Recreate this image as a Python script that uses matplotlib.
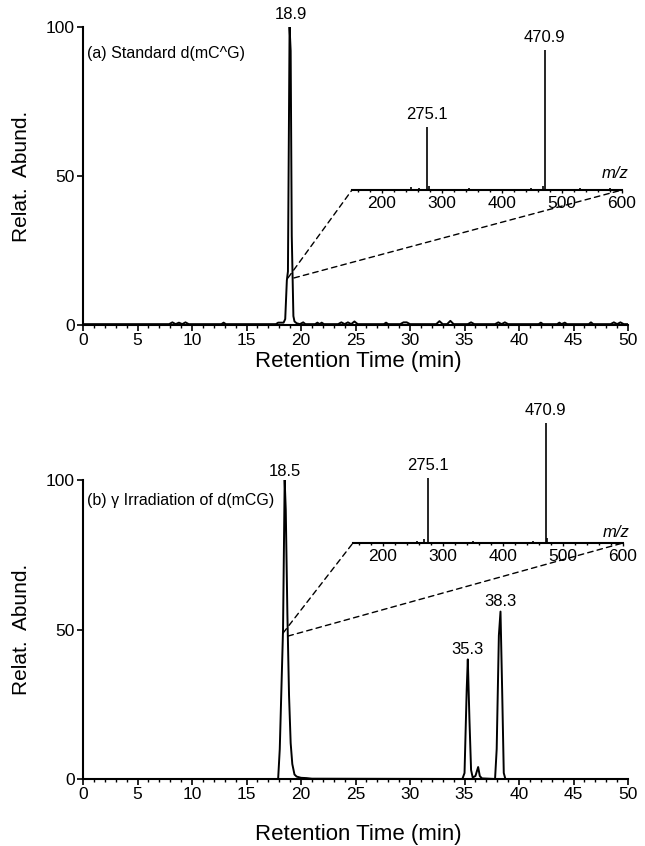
'''
LC chromatograms of d(mC^G) standard and gamma-irradiated d(mCG),
with the mass spectrum of the main peak as an inset
'''

import matplotlib
matplotlib.use('Agg')
from matplotlib import pyplot as plt
from matplotlib.patches import ConnectionPatch
from matplotlib.ticker import MultipleLocator

plt.rcParams['font.family'] = ['Liberation Sans', 'DejaVu Sans']

# chromatogram (a): standard
time_a = [0.0, 7.9, 8.2, 8.5, 8.8, 9.1, 9.4, 9.7, 12.7, 12.9, 13.1, 17.7, 17.9, 18.4,
          18.55, 18.7, 18.8, 18.95, 19.05, 19.15, 19.3, 19.4, 19.6, 19.9, 20.2, 20.4,
          21.3, 21.5, 21.7, 21.9, 22.1, 23.4, 23.7, 24.0, 24.3, 24.6, 24.9, 25.2,
          27.6, 27.8, 28.0, 29.1, 29.4, 29.7, 30.0, 32.4, 32.7, 33.0, 33.4, 33.7,
          34.0, 35.3, 35.6, 35.9, 37.8, 38.1, 38.4, 38.7, 39.0, 41.8, 42.0, 42.2,
          43.5, 43.7, 43.9, 44.2, 44.4, 46.4, 46.6, 46.8, 48.4, 48.7, 49.0, 49.3,
          49.6, 50.0]
abund_a = [0.3, 0.3, 0.9, 0.3, 0.8, 0.3, 0.9, 0.3, 0.3, 0.8, 0.3, 0.3, 0.8, 0.8,
           2.0, 15.0, 18.0, 100.0, 92.0, 30.0, 3.0, 1.2, 0.6, 0.3, 0.9, 0.3,
           0.3, 0.8, 0.3, 0.8, 0.3, 0.3, 0.9, 0.3, 0.9, 0.3, 1.2, 0.3,
           0.3, 0.8, 0.3, 0.3, 0.9, 0.9, 0.3, 0.3, 1.3, 0.3, 0.3, 1.4,
           0.3, 0.3, 0.9, 0.3, 0.3, 0.9, 0.3, 0.9, 0.3, 0.3, 0.8, 0.3,
           0.3, 0.8, 0.3, 0.8, 0.3, 0.3, 0.9, 0.3, 0.3, 0.9, 0.3, 0.9,
           0.3, 0.3]

# chromatogram (b): gamma irradiation
time_b = [0.0, 17.9, 18.05, 18.35, 18.5, 18.6, 18.75, 18.9, 19.05, 19.2, 19.4, 19.6,
          20.0, 20.5, 21.0, 34.8, 35.0, 35.2, 35.3, 35.45, 35.6, 35.75, 36.0, 36.25,
          36.4, 36.6, 37.8, 37.95, 38.15, 38.3, 38.45, 38.6, 38.75, 50.0]
abund_b = [0.0, 0.0, 10.0, 50.0, 100.0, 90.0, 55.0, 28.0, 12.0, 5.0, 1.5, 0.8,
           0.4, 0.3, 0.1, 0.0, 2.0, 30.0, 40.0, 20.0, 3.0, 0.5, 1.0, 4.0,
           1.0, 0.2, 0.0, 10.0, 48.0, 56.0, 30.0, 2.0, 0.0, 0.0]

# mass spectra of the main peak (relative intensity)
mz_a = [248, 262, 275.1, 278, 345, 352, 383, 430, 449, 468, 470.9, 505, 530, 560, 580]
int_a = [2, 1.5, 45, 3, 1.5, 1, 1, 1, 1.5, 3, 100, 1, 1.5, 1, 1.5]
mz_b = [257, 268, 275.1, 350, 385, 450, 470.9, 472.5, 520, 555]
int_b = [1.5, 3, 54, 2, 1, 1.5, 100, 4, 1, 1]

peaks_a = [(19.1, 100, '18.9', 9)]
peaks_b = [(18.5, 100, '18.5', 6), (35.3, 40, '35.3', 7), (38.3, 56, '38.3', 7)]
ions = ['275.1', '470.9']

fig = plt.figure(figsize=(6.45, 8.46), dpi=100)


def chrom_panel(rect, t, y, peaks, title, title_y, xlab_y):
    ax = fig.add_axes(rect)
    ax.plot(t, y, color='black', lw=1.4)
    ax.set_xlim(0, 50)
    ax.set_ylim(0, 100)
    ax.spines['top'].set_visible(False)
    ax.spines['right'].set_visible(False)
    ax.spines['left'].set_linewidth(1.5)
    ax.spines['bottom'].set_linewidth(1.5)
    ax.set_yticks([0, 50, 100])
    ax.xaxis.set_major_locator(MultipleLocator(5))
    ax.xaxis.set_minor_locator(MultipleLocator(1))
    ax.tick_params(axis='both', which='major', length=4, width=1.2, labelsize=12.5, pad=2)
    ax.tick_params(axis='x', which='minor', length=2.5, width=1)
    ax.set_ylabel('Relat.  Abund.', fontsize=15)
    ax.yaxis.set_label_coords(-0.095, 0.5)
    ax.set_xlabel('Retention Time (min)', fontsize=16)
    ax.xaxis.set_label_coords(0.505, xlab_y)
    ax.text(0.008, title_y, title, transform=ax.transAxes, fontsize=11.5, va='center', ha='left')
    for pt, ph, lab, dy in peaks:
        ax.annotate(lab, xy=(pt, ph), xytext=(0, dy), textcoords='offset points',
                    ha='center', va='center', fontsize=12)
    return ax


def spec_inset(rect, mz, inten, mz_lab_y):
    ax = fig.add_axes(rect)
    ax.patch.set_alpha(0)
    ax.vlines(mz, 0, inten, color='black', lw=1.2)
    ax.set_xlim(150, 600)
    ax.set_ylim(0, 100)
    for s in ['top', 'right', 'left']:
        ax.spines[s].set_visible(False)
    ax.spines['bottom'].set_linewidth(1.5)
    ax.set_yticks([])
    ax.set_xticks([200, 300, 400, 500, 600])
    ax.xaxis.set_minor_locator(MultipleLocator(20))
    ax.tick_params(axis='x', which='major', length=2.5, width=1, labelsize=12.5, pad=2)
    ax.tick_params(axis='x', which='minor', length=1.5, width=1)
    for m, h in zip(mz, inten):
        if '%.1f' % m in ions:
            ax.annotate('%.1f' % m, xy=(m, h), xytext=(0, 9), textcoords='offset points',
                        ha='center', va='center', fontsize=12)
    ax.text(0.975, mz_lab_y, 'm/z', transform=ax.transAxes, fontsize=12,
            style='italic', ha='center', va='center')
    return ax


ax_a = chrom_panel([0.1287, 0.6158, 0.845, 0.3522], time_a, abund_a, peaks_a,
                   '(a) Standard d(mC^G)', 0.91, -0.086)
ax_b = chrom_panel([0.1287, 0.0792, 0.845, 0.3534], time_b, abund_b, peaks_b,
                   '(b) γ Irradiation of d(mCG)', 0.933, -0.15)

ins_a = spec_inset([0.5457, 0.7754, 0.4186, 0.1655], mz_a, int_a, 0.12)
ins_b = spec_inset([0.5473, 0.3582, 0.4186, 0.1418], mz_b, int_b, 0.09)

# dashed zoom lines from the main peak to the inset axis ends
for ax, ins, p1, p2 in [(ax_a, ins_a, (18.8, 15.8), (19.35, 15.8)),
                        (ax_b, ins_b, (18.35, 48.8), (18.8, 47.8))]:
    for p, corner in [(p1, (0, 0)), (p2, (1, 0))]:
        con = ConnectionPatch(xyA=p, coordsA=ax.transData, xyB=corner,
                              coordsB=ins.transAxes, linestyle=(0, (4, 3)),
                              color='black', lw=1)
        fig.add_artist(con)

plt.savefig('out.png', dpi=100)
